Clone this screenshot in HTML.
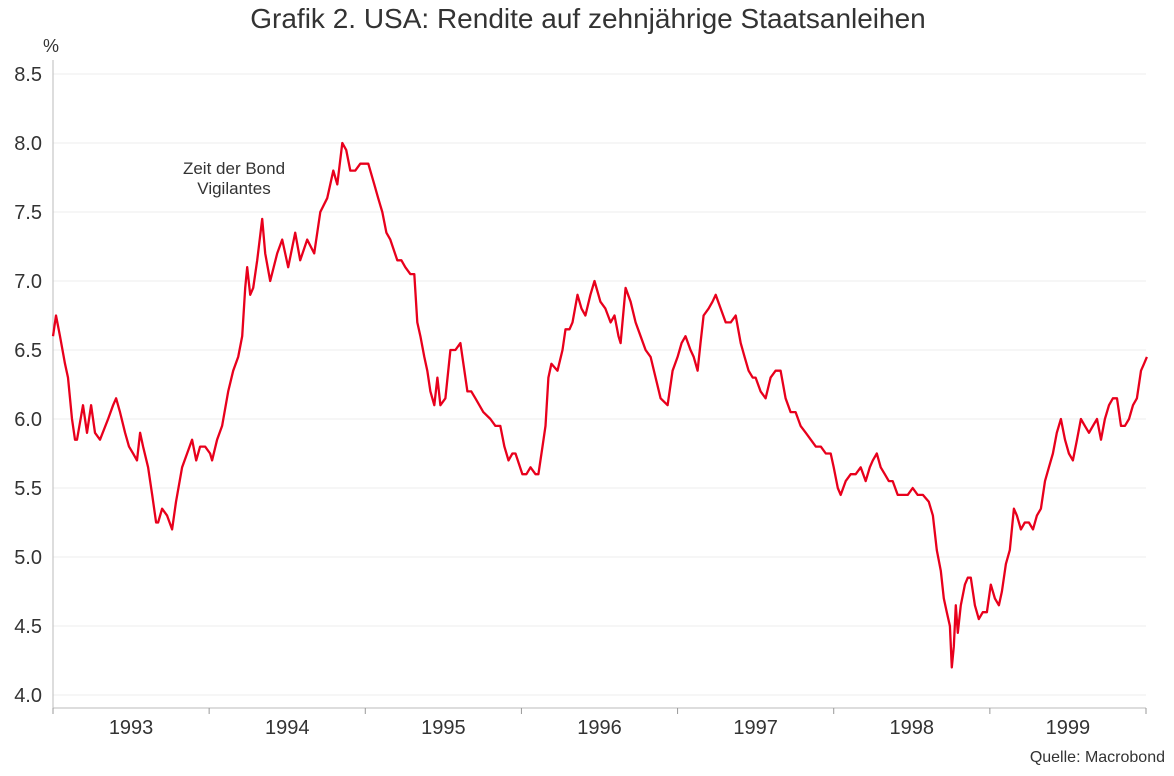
<!DOCTYPE html>
<html><head><meta charset="utf-8"><style>
body{margin:0;background:#fff;font-family:"Liberation Sans",sans-serif;}
svg text{font-family:"Liberation Sans",sans-serif;fill:#333;}
</style></head><body>
<svg id="chart" width="1174" height="771">
<text x="588" y="28" text-anchor="middle" font-size="28">Grafik 2. USA: Rendite auf zehnjährige Staatsanleihen</text>
<text x="43" y="52" font-size="18">%</text>
<text x="234" y="174" text-anchor="middle" font-size="17">Zeit der Bond</text>
<text x="234" y="194" text-anchor="middle" font-size="17">Vigilantes</text>
<text x="1165" y="762" text-anchor="end" font-size="16">Quelle: Macrobond</text>
<g id="grid"></g><g id="axes"></g><g id="series"></g>
</svg>
<script>
const yTicks=[4.0,4.5,5.0,5.5,6.0,6.5,7.0,7.5,8.0,8.5];
const years=["1993","1994","1995","1996","1997","1998","1999"];
const times=[0,.019,.045,.077,.096,.122,.141,.154,.192,.218,.244,.269,.301,.353,.385,.404,.429,.462,.487,.513,.538,.558,.577,.609,.635,.660,.673,.699,.731,.763,.788,.827,.859,.891,.917,.942,.974,1.006,1.019,1.051,1.083,1.122,1.154,1.186,1.212,1.231,1.244,1.263,1.282,1.308,1.340,1.359,1.391,1.436,1.468,1.506,1.551,1.583,1.628,1.673,1.712,1.756,1.795,1.821,1.853,1.878,1.904,1.936,1.968,2.0,2.019,2.058,2.083,2.109,2.135,2.160,2.205,2.231,2.256,2.288,2.314,2.333,2.353,2.378,2.397,2.417,2.442,2.462,2.481,2.513,2.545,2.577,2.609,2.635,2.654,2.679,2.705,2.756,2.801,2.833,2.865,2.891,2.917,2.942,2.962,3.006,3.032,3.058,3.090,3.109,3.135,3.154,3.173,3.192,3.231,3.263,3.282,3.308,3.327,3.359,3.385,3.410,3.442,3.468,3.506,3.538,3.571,3.596,3.622,3.635,3.667,3.699,3.731,3.763,3.795,3.827,3.859,3.891,3.936,3.968,4.0,4.026,4.051,4.083,4.103,4.128,4.147,4.167,4.199,4.224,4.244,4.276,4.308,4.340,4.372,4.404,4.429,4.455,4.481,4.500,4.532,4.564,4.596,4.628,4.660,4.692,4.724,4.756,4.788,4.821,4.853,4.885,4.917,4.949,4.981,5.0,5.026,5.045,5.077,5.109,5.141,5.173,5.205,5.231,5.250,5.276,5.301,5.327,5.353,5.378,5.410,5.442,5.474,5.506,5.538,5.571,5.609,5.635,5.660,5.686,5.705,5.724,5.744,5.756,5.769,5.782,5.795,5.814,5.840,5.859,5.878,5.904,5.929,5.955,5.981,6.006,6.032,6.058,6.077,6.103,6.128,6.154,6.173,6.199,6.224,6.250,6.276,6.301,6.327,6.353,6.378,6.404,6.429,6.455,6.481,6.506,6.532,6.558,6.583,6.609,6.635,6.660,6.686,6.712,6.737,6.763,6.788,6.814,6.840,6.865,6.891,6.917,6.942,6.968,6.987,7.006];
const yields=[6.6,6.75,6.6,6.4,6.3,6.0,5.85,5.85,6.1,5.9,6.1,5.9,5.85,6.0,6.1,6.15,6.05,5.9,5.8,5.75,5.7,5.9,5.8,5.65,5.45,5.25,5.25,5.35,5.3,5.2,5.4,5.65,5.75,5.85,5.7,5.8,5.8,5.75,5.7,5.85,5.95,6.2,6.35,6.45,6.6,6.95,7.1,6.9,6.95,7.15,7.45,7.2,7.0,7.2,7.3,7.1,7.35,7.15,7.3,7.2,7.5,7.6,7.8,7.7,8.0,7.95,7.8,7.8,7.85,7.85,7.85,7.7,7.6,7.5,7.35,7.3,7.15,7.15,7.1,7.05,7.05,6.7,6.6,6.45,6.35,6.2,6.1,6.3,6.1,6.15,6.5,6.5,6.55,6.35,6.2,6.2,6.15,6.05,6.0,5.95,5.95,5.8,5.7,5.75,5.75,5.6,5.6,5.65,5.6,5.6,5.8,5.95,6.3,6.4,6.35,6.5,6.65,6.65,6.7,6.9,6.8,6.75,6.9,7.0,6.85,6.8,6.7,6.75,6.6,6.55,6.95,6.85,6.7,6.6,6.5,6.45,6.3,6.15,6.1,6.35,6.45,6.55,6.6,6.5,6.45,6.35,6.55,6.75,6.8,6.85,6.9,6.8,6.7,6.7,6.75,6.55,6.45,6.35,6.3,6.3,6.2,6.15,6.3,6.35,6.35,6.15,6.05,6.05,5.95,5.9,5.85,5.8,5.8,5.75,5.75,5.65,5.5,5.45,5.55,5.6,5.6,5.65,5.55,5.65,5.7,5.75,5.65,5.6,5.55,5.55,5.45,5.45,5.45,5.5,5.45,5.45,5.4,5.3,5.05,4.9,4.7,4.6,4.5,4.2,4.35,4.65,4.45,4.65,4.8,4.85,4.85,4.65,4.55,4.6,4.6,4.8,4.7,4.65,4.75,4.95,5.05,5.35,5.3,5.2,5.25,5.25,5.2,5.3,5.35,5.55,5.65,5.75,5.9,6.0,5.85,5.75,5.7,5.85,6.0,5.95,5.9,5.95,6.0,5.85,6.0,6.1,6.15,6.15,5.95,5.95,6.0,6.1,6.15,6.35,6.4,6.45];

const NS="http://www.w3.org/2000/svg";
const X0=53,X1=1146,Y0=695,Y1=74;
function xs(t){return X0+(t/7)*(X1-X0);}
function ys(v){return Y0-(v-4.0)/(8.5-4.0)*(Y0-Y1);}
function mk(tag,parent,attrs){const e=document.createElementNS(NS,tag);for(const k in attrs)e.setAttribute(k,attrs[k]);parent.appendChild(e);return e;}
const grid=document.getElementById('grid'),axes=document.getElementById('axes'),series=document.getElementById('series');
yTicks.forEach(v=>{
  const l=mk('line',grid,{x1:X0,x2:X1,y1:ys(v),y2:ys(v),stroke:'#eeeeee','stroke-width':1});
  
  
  const t=mk('text',axes,{x:42,y:ys(v)+7,'text-anchor':'end','font-size':20});
  t.textContent=v.toFixed(1);
  
  
});
const ya=mk('line',axes,{x1:X0,x2:X0,y1:60,y2:711,stroke:'#bbb','stroke-width':1});


const xa=mk('line',axes,{x1:X0,x2:X1,y1:708,y2:708,stroke:'#bbb','stroke-width':1});


for(let i=0;i<=years.length;i++){
  const tk=mk('line',axes,{x1:xs(i),x2:xs(i),y1:708,y2:714,stroke:'#999','stroke-width':1});
  
  
}
years.forEach((y,i)=>{
  const t=mk('text',axes,{x:xs(i+0.5),y:734,'text-anchor':'middle','font-size':20});
  t.textContent=y;
  
  
});
const d=times.map((t,i)=>(i?'L':'M')+xs(t).toFixed(1)+','+ys(yields[i]).toFixed(1)).join(' ');
const p=mk('path',series,{d:d,fill:'none',stroke:'#e8001c','stroke-width':2.3,'stroke-linejoin':'round'});


</script>
</body></html>
